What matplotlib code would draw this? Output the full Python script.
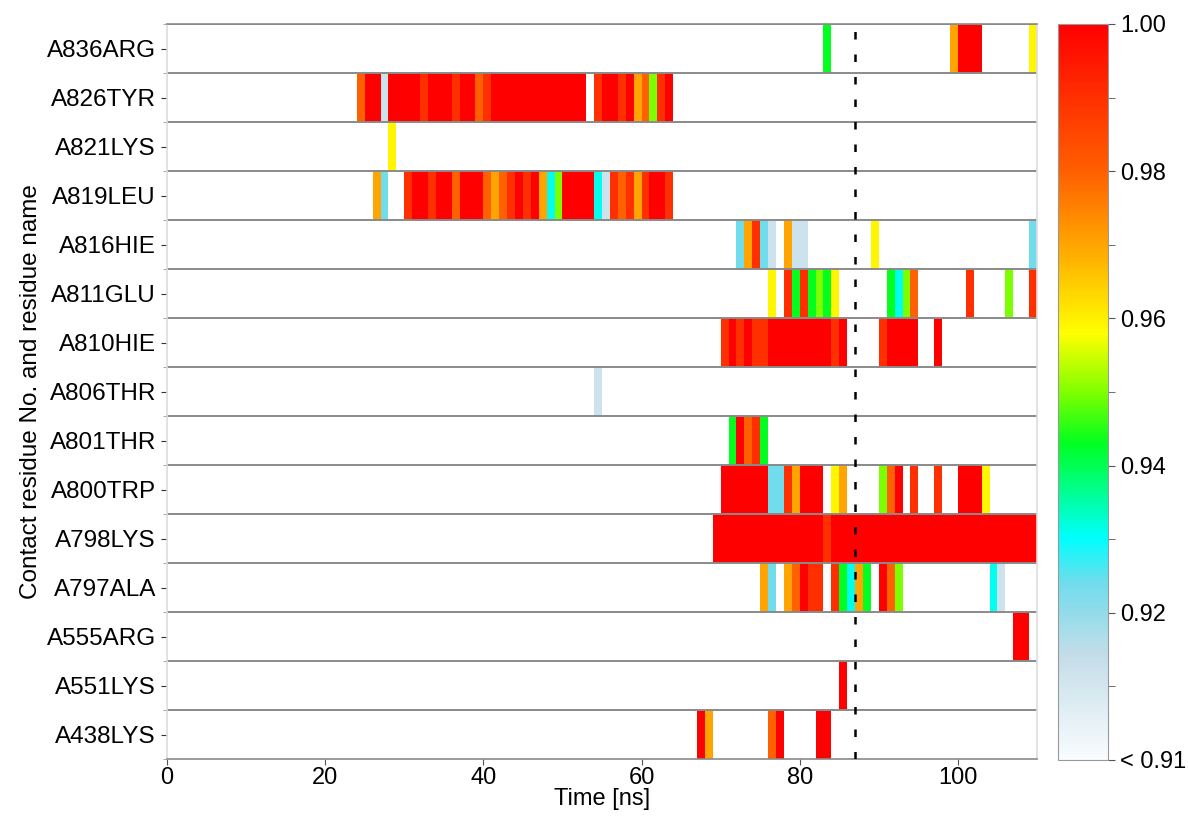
import matplotlib
matplotlib.use("Agg")
import matplotlib.pyplot as plt
import numpy as np
from matplotlib.colors import LinearSegmentedColormap, Normalize

# contact fraction levels
R = 1.00
R1 = 0.99
R2 = 0.98
O = 0.97
Y = 0.959
CH = 0.95
G = 0.943
C = 0.931
SB = 0.924
LB = 0.912

residues = ["A836ARG", "A826TYR", "A821LYS", "A819LEU", "A816HIE", "A811GLU",
            "A810HIE", "A806THR", "A801THR", "A800TRP", "A798LYS", "A797ALA",
            "A555ARG", "A551LYS", "A438LYS"]

# (start ns, end ns, value) runs per residue
A836ARG = [(83, 84, G), (99, 100, O), (100, 103, R), (109, 110, Y)]
A826TYR = [(24, 25, R2), (25, 27, R), (27, 28, LB), (28, 32, R), (32, 33, R1), (33, 36, R),
           (36, 37, R1), (37, 39, R), (39, 40, R2), (40, 41, R1), (41, 53, R), (54, 55, R1),
           (55, 57, R), (57, 58, R1), (58, 59, R), (59, 60, O), (60, 61, R2), (61, 62, CH),
           (62, 63, R1), (63, 64, R)]
A821LYS = [(28, 29, Y)]
A819LEU = [(26, 27, O), (27, 28, SB), (30, 31, R1), (31, 33, R), (33, 34, R1), (34, 36, R),
           (36, 37, R2), (37, 40, R), (40, 41, R2), (41, 42, O), (42, 43, R2), (43, 44, R1),
           (44, 45, R), (45, 46, R1), (46, 47, R), (47, 48, O), (48, 49, C), (49, 50, CH),
           (50, 54, R), (54, 55, C), (55, 56, LB), (56, 57, R1), (57, 58, R2), (58, 59, R1),
           (59, 60, O), (60, 61, R1), (61, 63, R), (63, 64, R1)]
A816HIE = [(72, 73, SB), (73, 74, O), (74, 75, R1), (75, 76, SB), (76, 77, LB), (78, 79, O),
           (79, 81, LB), (89, 90, Y), (109, 110, SB)]
A811GLU = [(76, 77, Y), (78, 79, R1), (79, 80, G), (80, 81, R1), (81, 82, G), (82, 83, CH),
           (83, 84, G), (84, 85, Y), (91, 92, G), (92, 93, C), (93, 94, CH), (94, 95, R2),
           (101, 102, R1), (106, 107, CH), (109, 110, R1)]
A810HIE = [(70, 71, R1), (71, 72, R), (72, 73, R1), (73, 74, R), (74, 76, R1), (76, 84, R),
           (84, 85, R1), (85, 86, R), (90, 91, R1), (91, 95, R), (97, 98, R)]
A806THR = [(54, 55, LB)]
A801THR = [(71, 72, G), (72, 73, R), (73, 74, R2), (74, 75, R1), (75, 76, G)]
A800TRP = [(70, 76, R), (76, 78, SB), (78, 79, R1), (79, 80, O), (80, 83, R), (84, 85, Y),
           (85, 86, O), (90, 91, CH), (91, 92, R2), (92, 93, R), (94, 95, R1), (97, 98, R1),
           (100, 103, R), (103, 104, Y)]
A798LYS = [(69, 83, R), (83, 84, R1), (84, 110, R)]
A797ALA = [(75, 76, O), (76, 77, SB), (78, 79, O), (79, 80, R2), (80, 81, R), (81, 83, R1),
           (84, 85, R1), (85, 86, G), (86, 87, C), (87, 88, O), (88, 89, G), (90, 91, R),
           (91, 92, R2), (92, 93, CH), (104, 105, C), (105, 106, LB)]
A555ARG = [(107, 109, R)]
A551LYS = [(85, 86, R)]
A438LYS = [(67, 68, R), (68, 69, O), (76, 77, R2), (77, 78, R), (82, 84, R)]

rows = [A836ARG, A826TYR, A821LYS, A819LEU, A816HIE, A811GLU, A810HIE, A806THR,
        A801THR, A800TRP, A798LYS, A797ALA, A555ARG, A551LYS, A438LYS]

t_max = 110
marker_time = 87
cbar_ticks = [0.90, 0.92, 0.94, 0.96, 0.98, 1.00]
cbar_labels = ["< 0.91", "0.92", "0.94", "0.96", "0.98", "1.00"]

# build the time x residue matrix
mat = np.full((len(rows), t_max), np.nan)
for i, runs in enumerate(rows):
    for start, end, val in runs:
        mat[i, start:end] = val
mat = np.ma.masked_invalid(mat)

cmap = LinearSegmentedColormap.from_list("contact", [
    (0.00, "#f8fcfe"), (0.14, "#c4dde8"), (0.24, "#70dcec"), (0.30, "#00ffff"),
    (0.43, "#00ff20"), (0.50, "#80ff00"), (0.58, "#ffff00"), (0.70, "#ffa500"),
    (0.80, "#ff6000"), (0.90, "#ff3000"), (1.00, "#ff0000")])
cmap.set_bad("white")
norm = Normalize(vmin=0.90, vmax=1.00)

plt.rcParams["font.family"] = ["Liberation Sans", "DejaVu Sans"]

fig = plt.figure(figsize=(11.88, 8.19), dpi=100)
ax = fig.add_axes([167 / 1188, 1 - 759 / 819, 870 / 1188, 735 / 819])

mesh = ax.pcolormesh(np.arange(t_max + 1), np.arange(len(rows) + 1), mat,
                     cmap=cmap, norm=norm, antialiased=False, zorder=1)
ax.set_xlim(0, t_max)
ax.set_ylim(len(rows), 0)

for b in range(len(rows)):
    ax.axhline(b, color="#8a8a8a", lw=1.4, zorder=2)
ax.axvline(marker_time, color="black", lw=1.8, ls=(0, (3.0, 6.0)), zorder=3)

ax.set_yticks(np.arange(len(rows)) + 0.5)
ax.set_yticklabels(residues, fontsize=17.5)
ax.set_yticks(np.arange(len(rows) + 1), minor=True)
ax.set_xticks([0, 20, 40, 60, 80, 100])
ax.tick_params(axis="x", labelsize=17, length=4, color="#555555", pad=2)
ax.tick_params(axis="y", which="major", length=4, color="#333333", pad=4)
ax.tick_params(axis="y", which="minor", length=3, color="#999999")

for side in ["left", "right"]:
    ax.spines[side].set_color("#dddddd")
ax.spines["bottom"].set_color("#8a8a8a")
ax.spines["top"].set_color("#8a8a8a")
for sp in ax.spines.values():
    sp.set_linewidth(1.2)

narrow = ["Liberation Sans Narrow", "DejaVu Sans Condensed", "Liberation Sans"]
ax.set_xlabel("Time [ns]", fontsize=17, family=narrow, labelpad=-1)
ax.set_ylabel("Contact residue No. and residue name", fontsize=17.5, family=narrow,
              labelpad=3)

cax = fig.add_axes([1058 / 1188, 1 - 760 / 819, 50 / 1188, 736 / 819])
cb = fig.colorbar(mesh, cax=cax)
cb.set_ticks(cbar_ticks)
cb.set_ticklabels(cbar_labels)
cb.ax.set_yticks([0.91, 0.93, 0.95, 0.97, 0.99], minor=True)
cb.ax.tick_params(which="major", labelsize=17, length=5, color="#555555")
cb.ax.tick_params(which="minor", length=5, color="#555555")
cb.outline.set_edgecolor("#999999")

fig.savefig("out.png", dpi=100)
